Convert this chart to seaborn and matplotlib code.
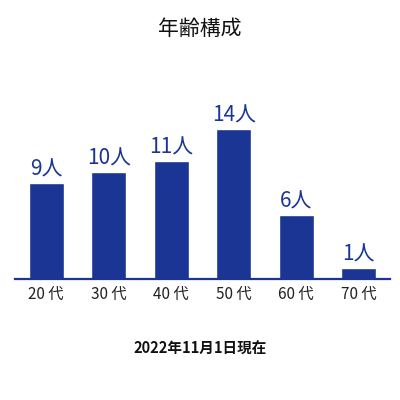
import matplotlib
matplotlib.use('Agg')
import matplotlib.pyplot as plt
import seaborn as sns

sns.set_theme(style="white")
plt.rcParams['font.family'] = ['Noto Sans CJK JP', 'DejaVu Sans']

# ── DATA ─────────────────────────────────────────────
age_groups = ['20 代', '30 代', '40 代', '50 代', '60 代', '70 代']
counts = [9, 10, 11, 14, 6, 1]
title = '年齢構成'
footnote = '2022年11月1日現在'

bar_color = '#1b3594'

fig = plt.figure(figsize=(4, 4), dpi=100)
ax = fig.add_axes([0.0375, 0.3025, 0.9375, 0.4275])

sns.barplot(x=age_groups, y=counts, color=bar_color, width=0.56,
            saturation=1, ax=ax)

for i, v in enumerate(counts):
    ax.annotate(f'{v}人', xy=(i, v), xytext=(0, 2), textcoords='offset points',
                ha='center', va='bottom', fontsize=15, color=bar_color)

ax.set_xlim(-0.5, 5.5)
ax.set_ylim(0, 16)
ax.set_yticks([])
ax.set_xlabel('')
ax.set_ylabel('')
for side in ['top', 'right', 'left']:
    ax.spines[side].set_visible(False)
ax.spines['bottom'].set_color(bar_color)
ax.spines['bottom'].set_linewidth(1.6)
ax.tick_params(axis='x', length=0, pad=5, labelsize=11, colors='#222222')

fig.text(0.5, 1 - 29 / 400, title, ha='center', va='center',
         fontsize=15, color='#111111')
fig.text(0.5, 1 - 349 / 400, footnote, ha='center', va='center',
         fontsize=10.5, fontweight='bold', color='#111111')

fig.savefig('out.png', dpi=100, facecolor='white')
